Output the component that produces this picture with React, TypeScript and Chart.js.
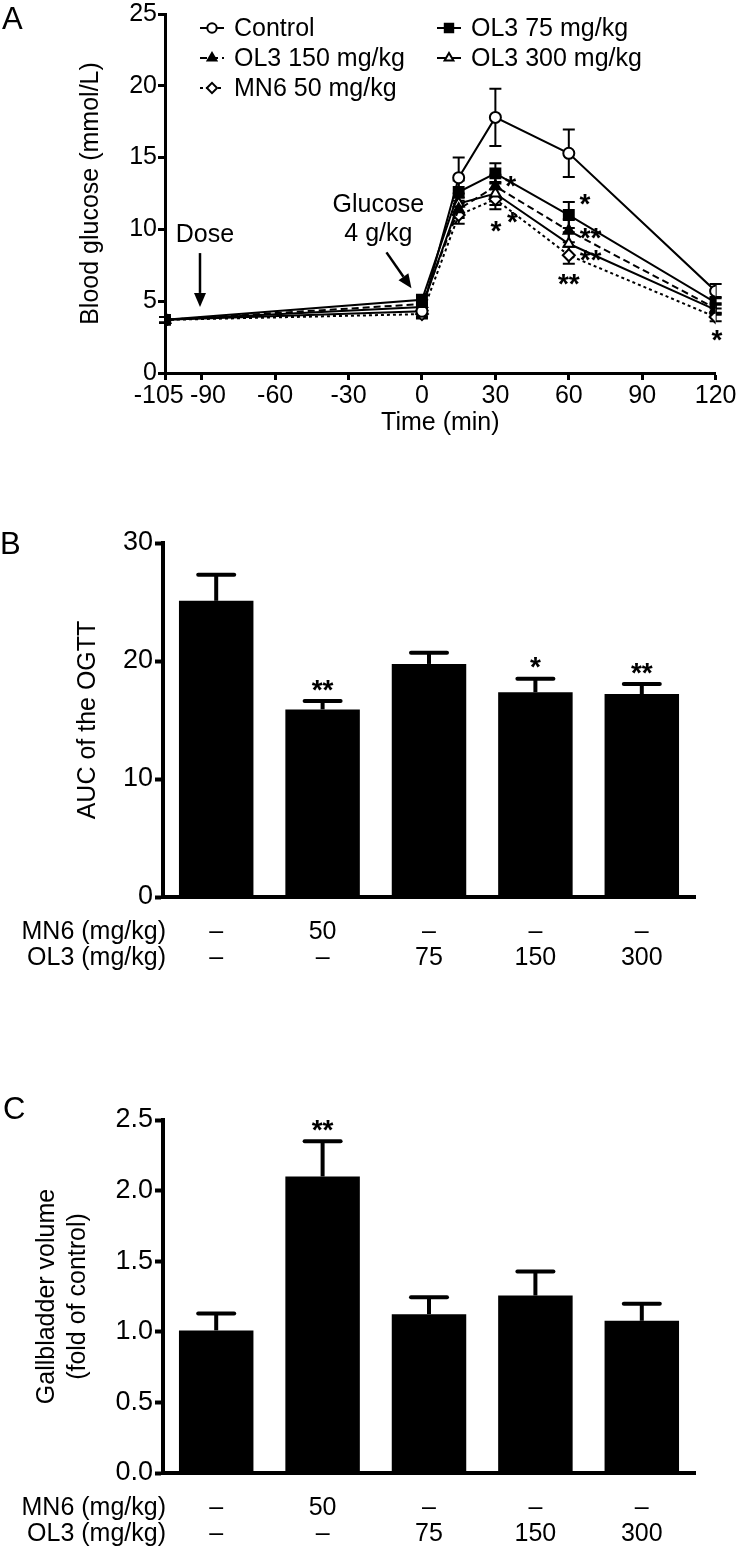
import React, { useEffect, useRef } from 'react';
import { Chart, registerables } from 'chart.js';
import { drawPoint } from 'chart.js/helpers';

Chart.register(...registerables);

const FONT = "'Liberation Sans', Arial, Helvetica, sans-serif";
Chart.defaults.font.family = FONT;
Chart.defaults.color = '#000';

// ---------------- Panel A data ----------------
const timePoints = [-105, 0, 15, 30, 60, 120];
const controlMean = [3.7, 4.3, 13.6, 17.8, 15.3, 5.7];
const controlSem = [0.2, 0.4, 1.4, 2.0, 1.65, 0.5];
const ol3_75Mean = [3.7, 5.1, 12.6, 13.9, 11.0, 4.9];
const ol3_75Sem = [0.2, 0.3, 0.8, 0.7, 0.9, 0.4];
const ol3_150Mean = [3.7, 4.8, 11.4, 13.0, 9.9, 4.5];
const ol3_150Sem = [0.2, 0.3, 0.6, 0.8, 0.8, 0.35];
const ol3_300Mean = [3.7, 4.6, 11.8, 12.5, 9.0, 4.4];
const ol3_300Sem = [0.2, 0.3, 0.7, 0.8, 0.8, 0.35];
const mn6Mean = [3.7, 4.1, 11.0, 12.1, 8.2, 3.9];
const mn6Sem = [0.2, 0.3, 0.6, 0.7, 0.6, 0.3];

const xTicksA = [-105, -90, -60, -30, 0, 30, 60, 90, 120];
const xTickLabelsA = ['-105\u2002', '\u2002-90', '-60', '-30', '0', '30', '60', '90', '120'];
const yTicksA = [0, 5, 10, 15, 20, 25];
const yTickLabelsA = ['0', '5', '10', '15', '20', '25'];

const seriesA = [
  { label: 'Control', mean: controlMean, sem: controlSem, pointStyle: 'circle', filled: false, dash: [] as number[], radius: 5.5, order: 2 },
  { label: 'OL3 75 mg/kg', mean: ol3_75Mean, sem: ol3_75Sem, pointStyle: 'rect', filled: true, dash: [] as number[], radius: 7, order: 1 },
  { label: 'OL3 150 mg/kg', mean: ol3_150Mean, sem: ol3_150Sem, pointStyle: 'triangle', filled: true, dash: [7, 4], radius: 6, order: 0 },
  { label: 'OL3 300 mg/kg', mean: ol3_300Mean, sem: ol3_300Sem, pointStyle: 'triangle', filled: false, dash: [] as number[], radius: 6, order: 3 },
  { label: 'MN6 50 mg/kg', mean: mn6Mean, sem: mn6Sem, pointStyle: 'rectRot', filled: false, dash: [3, 3], radius: 6, order: 4 },
];

// legend layout (pixels)
const legendSlots: Record<string, [number, number]> = {
  'Control': [212, 28],
  'OL3 150 mg/kg': [212, 58],
  'MN6 50 mg/kg': [212, 88],
  'OL3 75 mg/kg': [449, 28],
  'OL3 300 mg/kg': [449, 58],
};

// annotations in data coordinates
const arrowsA = [
  { lines: ['Dose'], textX: -88.7, textY: 9.6, fromX: -90.7, fromY: 8.35, toX: -90.7, toY: 4.6 },
  { lines: ['Glucose', '4 g/kg'], textX: -17.8, textY: 11.7, fromX: -14.5, fromY: 8.4, toX: -4.3, toY: 5.9 },
];
const starsA = [
  { x: 36.3, y: 12.8, text: '*' },
  { x: 37.0, y: 10.8, text: '*' },
  { x: 30.2, y: 10.2, text: '*' },
  { x: 66.6, y: 12.1, text: '*' },
  { x: 68.9, y: 9.7, text: '**' },
  { x: 68.9, y: 8.2, text: '**' },
  { x: 60.0, y: 6.5, text: '**' },
  { x: 120.5, y: 2.6, text: '*' },
];

// ---------------- Panel B / C data ----------------
const groupMN6 = ['\u2013', '50', '\u2013', '\u2013', '\u2013'];
const groupOL3 = ['\u2013', '\u2013', '75', '150', '300'];
const rowLabels = ['MN6 (mg/kg)', 'OL3 (mg/kg)'];

const aucMean = [25.1, 15.9, 19.75, 17.35, 17.2];
const aucSem = [2.2, 0.7, 0.95, 1.15, 0.85];
const aucStars = ['', '**', '', '*', '**'];
const yTicksB = [0, 10, 20, 30];
const yTickLabelsB = ['0', '10', '20', '30'];

const gbMean = [1.01, 2.1, 1.125, 1.257, 1.078];
const gbSem = [0.12, 0.25, 0.12, 0.17, 0.12];
const gbStars = ['', '**', '', '', ''];
const yTicksC = [0, 0.5, 1, 1.5, 2, 2.5];
const yTickLabelsC = ['0.0', '0.5', '1.0', '1.5', '2.0', '2.5'];

function drawCenteredGlyph(ctx: CanvasRenderingContext2D, text: string, cx: number, cy: number) {
  const m = ctx.measureText(text);
  const asc = m.actualBoundingBoxAscent;
  const desc = m.actualBoundingBoxDescent;
  ctx.textAlign = 'center';
  ctx.textBaseline = 'alphabetic';
  ctx.fillText(text, cx, cy + (asc - desc) / 2);
}

// ---------------- Panel A config ----------------
function lineConfig(): any {
  const errorBars = {
    id: 'errorBarsA',
    beforeDatasetsDraw(chart: any) {
      const { ctx, scales } = chart;
      const x = scales.x, y = scales.y;
      ctx.save();
      ctx.strokeStyle = '#000';
      ctx.lineWidth = 2;
      seriesA.forEach((s) => {
        s.mean.forEach((m, i) => {
          const e = s.sem[i];
          const px = x.getPixelForValue(timePoints[i]);
          const top = y.getPixelForValue(m + e);
          const bot = y.getPixelForValue(m - e);
          ctx.beginPath();
          ctx.moveTo(px, top); ctx.lineTo(px, bot);
          ctx.moveTo(px - 6, top); ctx.lineTo(px + 6, top);
          ctx.moveTo(px - 6, bot); ctx.lineTo(px + 6, bot);
          ctx.stroke();
        });
      });
      ctx.restore();
    },
  };

  const annotations = {
    id: 'annotationsA',
    afterDatasetsDraw(chart: any) {
      const { ctx, scales } = chart;
      const x = scales.x, y = scales.y;
      ctx.save();
      ctx.fillStyle = '#000';
      ctx.strokeStyle = '#000';
      arrowsA.forEach((a) => {
        ctx.font = `25px ${FONT}`;
        ctx.textAlign = 'center';
        ctx.textBaseline = 'middle';
        const tx = x.getPixelForValue(a.textX);
        const ty = y.getPixelForValue(a.textY);
        a.lines.forEach((l, i) => ctx.fillText(l, tx, ty + i * 29));
        const x1 = x.getPixelForValue(a.fromX), y1 = y.getPixelForValue(a.fromY);
        const x2 = x.getPixelForValue(a.toX), y2 = y.getPixelForValue(a.toY);
        const ang = Math.atan2(y2 - y1, x2 - x1);
        const hl = 14, hw = 6;
        const bx = x2 - Math.cos(ang) * hl, by = y2 - Math.sin(ang) * hl;
        ctx.lineWidth = 2.5;
        ctx.beginPath(); ctx.moveTo(x1, y1); ctx.lineTo(bx, by); ctx.stroke();
        ctx.beginPath();
        ctx.moveTo(x2, y2);
        ctx.lineTo(bx + Math.sin(ang) * hw, by - Math.cos(ang) * hw);
        ctx.lineTo(bx - Math.sin(ang) * hw, by + Math.cos(ang) * hw);
        ctx.closePath(); ctx.fill();
      });
      ctx.font = `bold 28px ${FONT}`;
      starsA.forEach((s) => {
        drawCenteredGlyph(ctx, s.text, x.getPixelForValue(s.x), y.getPixelForValue(s.y));
      });
      ctx.restore();
    },
    afterDraw(chart: any) {
      const ctx = chart.ctx;
      ctx.save();
      seriesA.forEach((s) => {
        const [cx, cy] = legendSlots[s.label];
        ctx.strokeStyle = '#000';
        ctx.lineWidth = 2;
        ctx.setLineDash(s.dash);
        ctx.beginPath(); ctx.moveTo(cx - 12, cy); ctx.lineTo(cx + 12, cy); ctx.stroke();
        ctx.setLineDash([]);
        ctx.fillStyle = s.filled ? '#000' : '#fff';
        drawPoint(ctx, { pointStyle: s.pointStyle, radius: s.radius * 0.85, borderWidth: 2, rotation: 0 } as any, cx, cy);
        ctx.fillStyle = '#000';
        ctx.font = `25px ${FONT}`;
        ctx.textAlign = 'left';
        ctx.textBaseline = 'middle';
        ctx.fillText(s.label, cx + 22, cy + 1);
      });
      ctx.restore();
    },
  };

  return {
    type: 'line',
    data: {
      datasets: seriesA.map((s) => ({
        label: s.label,
        order: s.order,
        data: timePoints.map((t, i) => ({ x: t, y: s.mean[i] })),
        borderColor: '#000',
        borderWidth: 2,
        borderDash: s.dash,
        pointStyle: s.pointStyle,
        pointRadius: s.radius,
        pointBackgroundColor: s.filled ? '#000' : '#fff',
        pointBorderColor: '#000',
        pointBorderWidth: 2,
        tension: 0,
        fill: false,
      })),
    },
    options: {
      responsive: false,
      animation: false,
      events: [],
      layout: { padding: { left: 0, right: 23, top: 14, bottom: 0 } },
      plugins: { legend: { display: false }, tooltip: { enabled: false } },
      scales: {
        x: {
          type: 'linear',
          min: -105,
          max: 120,
          afterBuildTicks: (s: any) => { s.ticks = xTicksA.map((v) => ({ value: v })); },
          afterFit: (s: any) => { s.height = 67; },
          ticks: {
            autoSkip: false,
            maxRotation: 0,
            padding: 3.5,
            color: '#000',
            font: { family: FONT, size: 25, lineHeight: 1 },
            callback: (v: number) => xTickLabelsA[xTicksA.indexOf(v)],
          },
          grid: { display: true, drawOnChartArea: false, drawTicks: true, tickLength: 7, tickWidth: 3, tickColor: '#000', color: '#000' },
          border: { display: true, color: '#000', width: 3 },
          title: { display: true, text: 'Time (min)', color: '#000', font: { family: FONT, size: 25, lineHeight: 1.2 }, padding: { top: 0, bottom: 2 } },
        },
        y: {
          type: 'linear',
          min: 0,
          max: 25,
          afterBuildTicks: (s: any) => { s.ticks = yTicksA.map((v) => ({ value: v })); },
          afterFit: (s: any) => { s.width = 165; },
          ticks: {
            padding: 1,
            color: '#000',
            font: { family: FONT, size: 25, lineHeight: 1 },
            callback: (v: number) => yTickLabelsA[yTicksA.indexOf(v)],
          },
          grid: { display: true, drawOnChartArea: false, drawTicks: true, tickLength: 7, tickWidth: 3, tickColor: '#000', color: '#000' },
          border: { display: true, color: '#000', width: 3 },
          title: { display: true, text: 'Blood glucose (mmol/L)', color: '#000', font: { family: FONT, size: 25, lineHeight: 1.2 }, padding: { top: 76, bottom: 0 } },
        },
      },
    },
    plugins: [errorBars, annotations],
  };
}

// ---------------- Panel B / C config ----------------
function barConfig(o: {
  mean: number[]; sem: number[]; stars: string[]; yMax: number; yTicks: number[]; yTickLabels: string[];
  title: string | string[]; titleLineHeight: number; titlePadTop: number; padTop: number; xHeight: number;
}): any {
  const labels = groupMN6.map((m, i) => [m, groupOL3[i]]);
  const extras = {
    id: 'barExtras',
    afterDatasetsDraw(chart: any) {
      const { ctx, scales, chartArea } = chart;
      const x = scales.x, y = scales.y;
      ctx.save();
      ctx.strokeStyle = '#000';
      ctx.fillStyle = '#000';
      ctx.lineWidth = 4;
      o.mean.forEach((m, i) => {
        const px = x.getPixelForValue(i);
        const base = y.getPixelForValue(m);
        const top = y.getPixelForValue(m + o.sem[i]);
        ctx.lineCap = 'butt';
        ctx.beginPath(); ctx.moveTo(px, base); ctx.lineTo(px, top); ctx.stroke();
        ctx.lineCap = 'round';
        ctx.beginPath(); ctx.moveTo(px - 18, top); ctx.lineTo(px + 18, top); ctx.stroke();
        if (o.stars[i]) {
          ctx.font = `bold 28px ${FONT}`;
          drawCenteredGlyph(ctx, o.stars[i], px, top - 16);
        }
      });
      // row labels for the group table under the axis
      ctx.font = `25px ${FONT}`;
      ctx.textAlign = 'right';
      ctx.textBaseline = 'middle';
      rowLabels.forEach((r, i) => {
        ctx.fillText(r, chartArea.left + 3, x.top + 22 + 13 + i * 26);
      });
      ctx.restore();
    },
  };
  return {
    type: 'bar',
    data: {
      labels,
      datasets: [{ data: o.mean, backgroundColor: '#000', borderWidth: 0, barPercentage: 0.7, categoryPercentage: 1 }],
    },
    options: {
      responsive: false,
      animation: false,
      events: [],
      layout: { padding: { left: 0, right: 45, top: o.padTop, bottom: 0 } },
      plugins: { legend: { display: false }, tooltip: { enabled: false } },
      scales: {
        x: {
          type: 'category',
          offset: true,
          afterFit: (s: any) => { s.height = o.xHeight; },
          ticks: { autoSkip: false, maxRotation: 0, padding: 22, color: '#000', font: { family: FONT, size: 25, lineHeight: 1.04 } },
          grid: { display: true, drawOnChartArea: false, drawTicks: false, color: '#000' },
          border: { display: true, color: '#000', width: 4 },
        },
        y: {
          type: 'linear',
          min: 0,
          max: o.yMax,
          afterBuildTicks: (s: any) => { s.ticks = o.yTicks.map((v) => ({ value: v })); },
          afterFit: (s: any) => { s.width = 163; },
          ticks: {
            padding: 2,
            color: '#000',
            font: { family: FONT, size: 27, lineHeight: 1 },
            callback: (v: number) => o.yTickLabels[o.yTicks.indexOf(v)],
          },
          grid: { display: true, drawOnChartArea: false, drawTicks: true, tickLength: 8, tickWidth: 4, tickColor: '#000', color: '#000' },
          border: { display: true, color: '#000', width: 4 },
          title: { display: true, text: o.title, color: '#000', font: { family: FONT, size: 25, lineHeight: o.titleLineHeight }, padding: { top: o.titlePadTop, bottom: 0 } },
        },
      },
    },
    plugins: [extras],
  };
}

function useChart(ref: React.RefObject<HTMLCanvasElement | null>, make: () => any) {
  useEffect(() => {
    if (!ref.current) return;
    const chart = new Chart(ref.current, make());
    return () => chart.destroy();
  }, []);
}

const letterStyle = (left: number, top: number): React.CSSProperties => ({
  position: 'absolute', left, top, fontFamily: FONT, fontSize: 31, lineHeight: '31px', color: '#000',
});

export default function App() {
  const refA = useRef<HTMLCanvasElement>(null);
  const refB = useRef<HTMLCanvasElement>(null);
  const refC = useRef<HTMLCanvasElement>(null);

  useChart(refA, lineConfig);
  useChart(refB, () => barConfig({
    mean: aucMean, sem: aucSem, stars: aucStars, yMax: 30, yTicks: yTicksB, yTickLabels: yTickLabelsB,
    title: 'AUC of the OGTT', titleLineHeight: 1.2, titlePadTop: 73, padTop: 23, xHeight: 83,
  }));
  useChart(refC, () => barConfig({
    mean: gbMean, sem: gbSem, stars: gbStars, yMax: 2.5, yTicks: yTicksC, yTickLabels: yTickLabelsC,
    title: ['Gallbladder volume', '(fold of control)'], titleLineHeight: 1.24, titlePadTop: 32, padTop: 40, xHeight: 81,
  }));

  return (
    <div style={{ position: 'absolute', left: 0, top: 0, width: 740, height: 1554, background: '#fff', overflow: 'hidden' }}>
      <canvas ref={refA} width={740} height={440} style={{ position: 'absolute', left: 0, top: 0 }} />
      <canvas ref={refB} width={740} height={460} style={{ position: 'absolute', left: 0, top: 520 }} />
      <canvas ref={refC} width={740} height={474} style={{ position: 'absolute', left: 0, top: 1080 }} />
      <div style={letterStyle(2, 3)}>A</div>
      <div style={letterStyle(0, 528)}>B</div>
      <div style={letterStyle(3, 1093)}>C</div>
    </div>
  );
}
